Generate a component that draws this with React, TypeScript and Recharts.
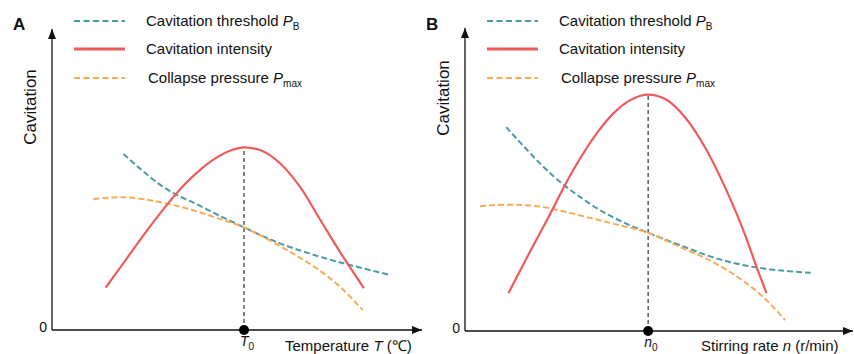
import React from 'react';
import { LineChart, Line, XAxis, YAxis, ReferenceLine, ReferenceDot } from 'recharts';

type Pt = [number, number];

// panel A: temperature T (x and y both on a 0-100 relative scale)
const aThreshold: Pt[] = [[19.3, 58.5], [24.2, 53.2], [28.7, 48.7], [33.2, 45.2], [38.6, 42.1], [44.9, 38.2], [51.9, 34.1], [56.2, 31.6], [61.6, 28.8], [68.8, 25.7], [80.5, 21.6], [91.4, 18.3]];
const aIntensity: Pt[] = [[14.5, 14.1], [19.7, 22.9], [25.1, 32.1], [31.0, 41.5], [35.9, 48.4], [40.5, 53.7], [44.9, 57.6], [48.6, 59.8], [51.9, 60.7], [56.2, 59.8], [61.6, 55.4], [67.0, 47.6], [72.4, 36.8], [77.8, 26.0], [80.5, 20.9], [84.3, 13.9]];
const aCollapse: Pt[] = [[11.2, 43.5], [18.8, 44.1], [25.1, 43.4], [31.4, 41.9], [38.6, 39.6], [44.9, 37.1], [51.9, 34.1], [56.2, 31.5], [64.3, 26.0], [71.5, 20.5], [77.8, 14.4], [84.0, 6.6]];
const aPeak: Pt = [51.9, 60.7];

// panel B: stirring rate n
const bThreshold: Pt[] = [[10.6, 67.3], [15.1, 61.0], [20.2, 54.2], [25.4, 48.3], [30.6, 43.4], [35.7, 39.2], [41.8, 35.3], [47.2, 32.4], [55.1, 28.5], [63.7, 24.4], [74.9, 21.0], [82.7, 19.8], [89.1, 19.2]];
const bIntensity: Pt[] = [[11.2, 12.5], [15.9, 24.1], [22.4, 39.8], [25.4, 47.3], [29.7, 57.0], [34.0, 65.3], [38.3, 71.9], [42.6, 76.2], [47.2, 78.0], [51.7, 76.5], [56.8, 70.4], [62.0, 60.3], [67.2, 46.9], [72.4, 31.0], [74.9, 22.0], [77.7, 12.5]];
const bCollapse: Pt[] = [[3.9, 41.2], [11.6, 41.7], [18.5, 41.2], [25.4, 39.5], [32.3, 37.3], [39.2, 35.1], [47.2, 32.4], [55.1, 27.9], [63.7, 22.9], [70.6, 17.5], [76.7, 11.4], [82.5, 3.6]];
const bPeak: Pt = [47.2, 78.0];

const FONT = '"Liberation Sans", Arial, sans-serif';
const TEAL = '#4a9ca3';
const RED = '#f05a5a';
const ORANGE = '#f9aa55';

const toRows = (pts: Pt[]) => pts.map(([x, y]) => ({ x, y }));

const peakTick = (sym: string) => (props: any) => {
    const { x, y } = props;
    return (
        <text x={x - 4} y={y + 8} fontSize={14} fontFamily={FONT} fill="#111">
            <tspan fontStyle="italic">{sym}</tspan>
            <tspan fontSize={10} dy={4}>0</tspan>
        </text>
    );
};

const zeroTick = (props: any) => (
    <text x={props.x} y={props.y + 2} textAnchor="end" fontSize={14} fontFamily={FONT} fill="#111">0</text>
);

const arrowRight = (p: any) => (
    <polygon points={`${p.cx},${p.cy} ${p.cx - 10},${p.cy - 4} ${p.cx - 10},${p.cy + 4}`} fill="#111" />
);
const arrowUp = (p: any) => (
    <polygon points={`${p.cx},${p.cy} ${p.cx - 4},${p.cy + 10} ${p.cx + 4},${p.cy + 10}`} fill="#111" />
);

interface PanelProps {
    left: number;
    axisX: number;
    axisY: number;
    top: number;
    right: number;
    letter: string;
    threshold: Pt[];
    intensity: Pt[];
    collapse: Pt[];
    peak: Pt;
    sym: string;
    xTitle: React.ReactNode;
    xTitleX: number;
    yTitleY: number;
}

const Panel = ({ left, axisX, axisY, top, right, letter, threshold, intensity, collapse, peak, sym, xTitle, xTitleX, yTitleY }: PanelProps) => {
    const ax = axisX;
    const legend = [
        { color: TEAL, dash: '6 3.5', w: 2, text: <>Cavitation threshold <tspan fontStyle="italic">P</tspan><tspan fontSize={10} dy={4}>B</tspan></>, dx: 0 },
        { color: RED, dash: undefined, w: 3, text: <>Cavitation intensity</>, dx: 0 },
        { color: ORANGE, dash: '6 3.5', w: 2, text: <>Collapse pressure <tspan fontStyle="italic">P</tspan><tspan fontSize={10} dy={4}>max</tspan></>, dx: 2 },
    ];
    const rowsY = [21, 49, 78];
    // axes get 1px of room so they draw; the axis lines sit on the plot edges
    const margin = { top, right, bottom: 354 - axisY - 1, left: axisX - 1 };
    return (
        <div style={{ position: 'absolute', left, top: 0, width: 427, height: 354 }}>
            <LineChart width={427} height={354} margin={margin}>
                <XAxis type="number" dataKey="x" domain={[0, 100]} height={1} ticks={[peak[0]]} tick={peakTick(sym)}
                    tickLine={false} axisLine={{ stroke: '#111', strokeWidth: 1.3 }} />
                <YAxis type="number" dataKey="y" domain={[0, 100]} width={1} ticks={[0]} tick={zeroTick} tickSize={3}
                    tickLine={false} axisLine={{ stroke: '#111', strokeWidth: 1.3 }} />
                <ReferenceLine segment={[{ x: peak[0], y: 0 }, { x: peak[0], y: peak[1] }]} stroke="#333" strokeWidth={1.2} strokeDasharray="4 3" />
                <Line data={toRows(threshold)} dataKey="y" type="monotone" stroke={TEAL} strokeWidth={2} strokeDasharray="6 3"
                    dot={false} activeDot={false} isAnimationActive={false} />
                <Line data={toRows(collapse)} dataKey="y" type="monotone" stroke={ORANGE} strokeWidth={2} strokeDasharray="6 3"
                    dot={false} activeDot={false} isAnimationActive={false} />
                <Line data={toRows(intensity)} dataKey="y" type="monotone" stroke={RED} strokeWidth={2.2}
                    dot={false} activeDot={false} isAnimationActive={false} />
                <ReferenceDot x={peak[0]} y={0} r={5} fill="#000" stroke="none" />
                <ReferenceDot x={100} y={0} shape={arrowRight} />
                <ReferenceDot x={0} y={100} shape={arrowUp} />
            </LineChart>
            <svg width={427} height={354} style={{ position: 'absolute', left: 0, top: 0, pointerEvents: 'none' }}
                fontFamily={FONT} fill="#111">
                <text x={ax - 39} y={30} fontSize={17} fontWeight="bold">{letter}</text>
                {legend.map((l, i) => (
                    <g key={i}>
                        <line x1={ax + 22} x2={ax + 73} y1={rowsY[i]} y2={rowsY[i]} stroke={l.color} strokeWidth={l.w} strokeDasharray={l.dash} />
                        <text x={ax + 94 + l.dx} y={rowsY[i] + 5} fontSize={15}>{l.text}</text>
                    </g>
                ))}
                <text transform={`translate(${ax - 22},${yTitleY}) rotate(-90)`} textAnchor="middle" dominantBaseline="central" fontSize={17}>Cavitation</text>
                <text x={xTitleX} y={351} fontSize={15}>{xTitle}</text>
            </svg>
        </div>
    );
};

export default function App() {
    return (
        <div style={{ position: 'absolute', left: 0, top: 0, width: 854, height: 354, background: '#fff' }}>
            <Panel left={0} axisX={52} axisY={330} top={29} right={5} letter="A"
                threshold={aThreshold} intensity={aIntensity} collapse={aCollapse} peak={aPeak} sym="T"
                xTitle={<>Temperature <tspan fontStyle="italic">T</tspan> (℃)</>} xTitleX={285} yTitleY={107} />
            <Panel left={427} axisX={38} axisY={331} top={28} right={1} letter="B"
                threshold={bThreshold} intensity={bIntensity} collapse={bCollapse} peak={bPeak} sym="n"
                xTitle={<>Stirring rate <tspan fontStyle="italic">n</tspan> (r/min)</>} xTitleX={274} yTitleY={98} />
        </div>
    );
}
